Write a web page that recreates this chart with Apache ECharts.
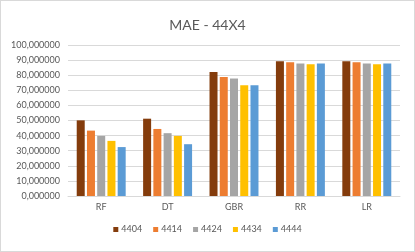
<!DOCTYPE html>
<html><head><meta charset="utf-8">
<script src="https://cdn.jsdelivr.net/npm/echarts@6/dist/echarts.min.js"></script>
<style>html,body{margin:0;padding:0;background:#fff}#c{width:415px;height:252px;box-sizing:border-box;border:1px solid #d9d9d9}</style>
</head><body><div id="c"></div>
<script>
const categories = ['RF', 'DT', 'GBR', 'RR', 'LR'];
const seriesNames = ['4404', '4414', '4424', '4434', '4444'];
const s4404 = [50.1, 51.2, 82.1, 89.2, 89.2];
const s4414 = [43.3, 44.4, 78.8, 88.5, 88.5];
const s4424 = [39.8, 41.6, 77.8, 87.8, 87.8];
const s4434 = [36.5, 39.8, 73.4, 87.2, 87.2];
const s4444 = [32.4, 34.3, 73.4, 87.8, 87.8];
const colors = ['#843C0C', '#ED7D31', '#A5A5A5', '#FFC000', '#5B9BD5'];
const yTicks = [0, 10, 20, 30, 40, 50, 60, 70, 80, 90, 100];

const data = [s4404, s4414, s4424, s4434, s4444];
const font = 'Lato, "Open Sans", sans-serif';
const chart = echarts.init(document.getElementById('c'), null, {renderer: 'canvas'});
chart.setOption({
  animation: false,
  title: {text: 'MAE - 44X4', left: 'center', top: 12,
    textStyle: {fontSize: 14, fontWeight: 'normal', color: '#595959', fontFamily: font}},
  legend: {bottom: 12, left: 'center', itemWidth: 5, itemHeight: 5, itemGap: 11,
    icon: 'rect', textStyle: {fontSize: 9, color: '#595959', fontFamily: font, padding: [0,0,0,-2]},
    data: seriesNames},
  grid: {left: 67, right: 14, top: 44, bottom: 55},
  xAxis: {type: 'category', data: categories,
    axisLine: {lineStyle: {color: '#d9d9d9'}}, axisTick: {show: false},
    axisLabel: {color: '#595959', fontSize: 9, fontFamily: font, margin: 7}},
  yAxis: {type: 'value', min: yTicks[0], max: yTicks[yTicks.length-1], interval: 10,
    axisLine: {show: false}, axisTick: {show: false},
    splitLine: {lineStyle: {color: '#d9d9d9'}},
    axisLabel: {color: '#595959', fontSize: 9, fontFamily: font, margin: 8,
      formatter: v => v.toFixed(6).replace('.', ',')}},
  series: seriesNames.map((n, i) => ({
    name: n, type: 'bar', data: data[i], barWidth: 8, barGap: '28%',
    itemStyle: {color: colors[i]}
  }))
});
</script></body></html>
